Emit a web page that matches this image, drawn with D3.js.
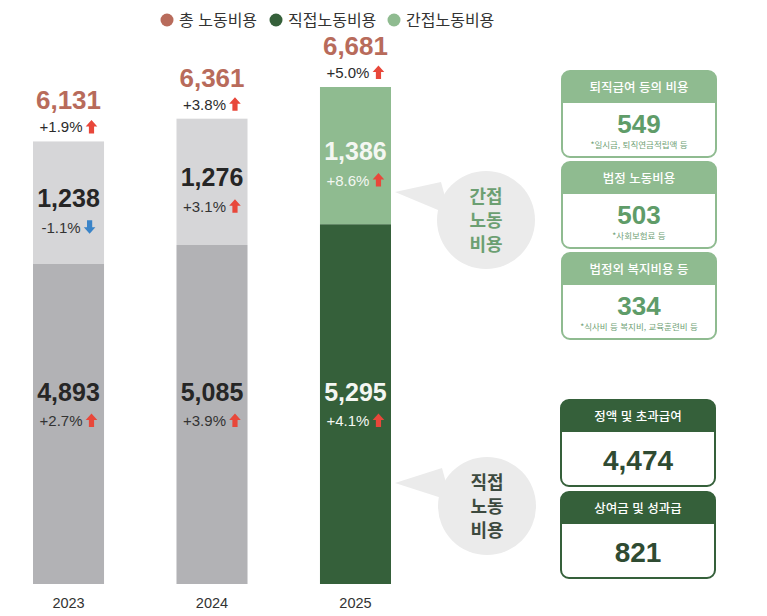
<!DOCTYPE html>
<html lang="ko">
<head>
<meta charset="utf-8">
<script src="https://cdn.jsdelivr.net/npm/d3@7"></script>
<style>
  body { margin: 0; background: #fff; }
  text { font-family: "Liberation Sans", "Noto Sans CJK KR", sans-serif; }
  .kr { font-family: "Noto Sans CJK KR", sans-serif; }
</style>
</head>
<body>
<div id="chart"></div>
<script>
// Values (labour cost per head, 천원)
var years = ['2023', '2024', '2025'];
var direct = [4893, 5085, 5295];
var indirect = [1238, 1276, 1386];
var totalChange = [1.9, 3.8, 5.0];
var directChange = [2.7, 3.9, 4.1];
var indirectChange = [-1.1, 3.1, 8.6];

var legendLabels = ['총 노동비용', '직접노동비용', '간접노동비용'];

var indirectParts = ['퇴직급여 등의 비용', '법정 노동비용', '법정외 복지비용 등'];
var indirectValues = [549, 503, 334];
var indirectNotes = ['*일시금, 퇴직연금적립액 등', '*사회보험료 등', '*식사비 등 복지비, 교육훈련비 등'];

var directParts = ['정액 및 초과급여', '상여금 및 성과급'];
var directValues = [4474, 821];

(function() {
  'use strict';

  var W = 767, H = 616;
  var colors = {
    total: '#b86b5b',
    dark: '#35603a',
    light: '#8fbb90',
    greyTop: '#d6d6d8',
    greyBottom: '#b2b2b5',
    up: '#e8473a',
    down: '#3a84c8'
  };

  var fmt = d3.format(',');
  var pct = function(v) { return (v > 0 ? '+' : '') + v.toFixed(1) + '%'; };

  var rows = years.map(function(y, i) {
    return { year: y, direct: direct[i], indirect: indirect[i] };
  });
  var stacked = d3.stack().keys(['direct', 'indirect'])(rows);

  var svg = d3.select('#chart').append('svg')
      .attr('width', W)
      .attr('height', H);

  var x = d3.scaleBand()
      .domain(years)
      .range([33, 391])
      .paddingInner(0.505);

  // The picture's bars are drawn on a cut baseline, so the domain starts above zero.
  var y = d3.scaleLinear()
      .domain([1660, 6681])
      .range([584, 87]);

  // Legend
  var legendX = [167, 276, 394];
  var legendColors = [colors.total, colors.dark, colors.light];
  var legend = svg.append('g').selectAll('g')
      .data(legendLabels)
      .enter().append('g')
      .attr('transform', function(d, i) { return 'translate(' + legendX[i] + ',20)'; });
  legend.append('circle')
      .attr('r', 6.5)
      .attr('fill', function(d, i) { return legendColors[i]; });
  legend.append('text')
      .attr('class', 'kr')
      .attr('x', 12)
      .attr('y', 6)
      .attr('font-size', 16)
      .attr('fill', '#333')
      .text(function(d) { return d; });

  // Bars
  function segColor(key, i) {
    var last = i === years.length - 1;
    if (key === 'direct') return last ? colors.dark : colors.greyBottom;
    return last ? colors.light : colors.greyTop;
  }

  stacked.forEach(function(layer) {
    svg.append('g').selectAll('rect')
        .data(layer)
        .enter().append('rect')
        .attr('x', function(d) { return x(d.data.year); })
        .attr('width', x.bandwidth())
        .attr('y', function(d) { return y(d[1]); })
        .attr('height', function(d) { return y(Math.max(d[0], y.domain()[0])) - y(d[1]); })
        .attr('fill', function(d, i) { return segColor(layer.key, i); });
  });

  function arrow(g, up, tx, ty) {
    var p = 'M-2.6,0V-7H-5.8L0,-13.5L5.8,-7H2.6V0Z';
    g.append('path')
        .attr('d', p)
        .attr('fill', up ? colors.up : colors.down)
        .attr('transform', 'translate(' + tx + ',' + ty + ')' + (up ? '' : ' rotate(180,0,-6.75)'));
  }

  // text + arrow, centred on cx together
  function changeLabel(cx, by, v, col) {
    var g = svg.append('g');
    var t = g.append('text')
        .attr('y', by)
        .attr('font-size', 15)
        .attr('fill', col)
        .text(pct(v));
    var w = t.node().getComputedTextLength();
    var full = w + 3 + 12;
    var left = cx - full / 2;
    t.attr('x', left);
    arrow(g, v >= 0, left + w + 3 + 6, by + 1);
  }

  function valueLabel(cx, by, v, col, size) {
    svg.append('text')
        .attr('x', cx)
        .attr('y', by)
        .attr('text-anchor', 'middle')
        .attr('font-size', size)
        .attr('font-weight', 'bold')
        .attr('fill', col)
        .text(fmt(v));
  }

  rows.forEach(function(r, i) {
    var cx = x(r.year) + x.bandwidth() / 2;
    var last = i === years.length - 1;
    var total = r.direct + r.indirect;
    var top = y(total);
    var split = y(r.direct);

    valueLabel(cx, top - 32, total, colors.total, 26);
    changeLabel(cx, top - 9, totalChange[i], '#2b2b2b');

    var mid = (top + split) / 2;
    valueLabel(cx, mid + 4, r.indirect, last ? '#f4f7f2' : '#262626', 25);
    changeLabel(cx, mid + 30, indirectChange[i], last ? '#f4f7f2' : '#333');

    valueLabel(cx, 401, r.direct, last ? '#f4f7f2' : '#262626', 25);
    changeLabel(cx, 426, directChange[i], last ? '#f4f7f2' : '#333');

    svg.append('text')
        .attr('x', cx)
        .attr('y', 608)
        .attr('text-anchor', 'middle')
        .attr('font-size', 14.5)
        .attr('fill', '#333')
        .text(r.year);
  });

  // Speech bubbles
  var tipX = x('2025') + x.bandwidth() + 4;
  function bubble(cx, cy, tipY, lines, col) {
    var g = svg.append('g');
    g.append('path')
        .attr('d', 'M' + tipX + ',' + tipY + 'L' + (cx - 45) + ',' + (cy - 38) +
                   'L' + (cx - 36) + ',' + (cy - 5) + 'Z')
        .attr('fill', '#ebebeb');
    g.append('circle')
        .attr('cx', cx).attr('cy', cy).attr('r', 49)
        .attr('fill', '#ebebeb');
    g.selectAll('text')
        .data(lines)
        .enter().append('text')
        .attr('class', 'kr')
        .attr('x', cx)
        .attr('y', function(d, i) { return cy - 17 + i * 24; })
        .attr('text-anchor', 'middle')
        .attr('font-size', 18)
        .attr('font-weight', 'bold')
        .attr('fill', col)
        .text(function(d) { return d; });
  }
  bubble(486, 220, 192, ['간접', '노동', '비용'], '#6c9f72');
  bubble(487, 506, 483, ['직접', '노동', '비용'], '#3d4a3f');

  // Breakdown boxes
  function box(bx, by, title, value, note, dark) {
    var bw = 154, bh = 86, hh = 32;
    var edge = dark ? colors.dark : colors.light;
    var g = svg.append('g').attr('transform', 'translate(' + bx + ',' + by + ')');
    g.append('rect')
        .attr('width', bw).attr('height', bh).attr('rx', 8)
        .attr('fill', '#fff').attr('stroke', edge).attr('stroke-width', 2);
    g.append('path')
        .attr('d', 'M0,' + hh + 'V8A8,8 0 0 1 8,0H' + (bw - 8) + 'A8,8 0 0 1 ' + bw + ',8V' + hh + 'Z')
        .attr('fill', edge);
    g.append('text')
        .attr('class', 'kr')
        .attr('x', bw / 2).attr('y', 21)
        .attr('text-anchor', 'middle')
        .attr('font-size', 12.5)
        .attr('font-weight', 500)
        .attr('fill', '#fff')
        .text(title);
    g.append('text')
        .attr('x', bw / 2).attr('y', note ? 62 : 70)
        .attr('text-anchor', 'middle')
        .attr('font-size', dark ? 28 : 26)
        .attr('font-weight', 'bold')
        .attr('fill', dark ? '#2f4b32' : '#5f9c69')
        .text(fmt(value));
    if (note) {
      g.append('text')
          .attr('class', 'kr')
          .attr('x', bw / 2).attr('y', 77)
          .attr('text-anchor', 'middle')
          .attr('font-size', 8.5)
          .attr('fill', '#6f9f76')
          .text(note);
    }
  }

  indirectParts.forEach(function(t, i) {
    box(562, 71 + i * 91, t, indirectValues[i], indirectNotes[i], false);
  });
  directParts.forEach(function(t, i) {
    box(561, 400 + i * 92, t, directValues[i], null, true);
  });
})();
</script>
</body>
</html>
